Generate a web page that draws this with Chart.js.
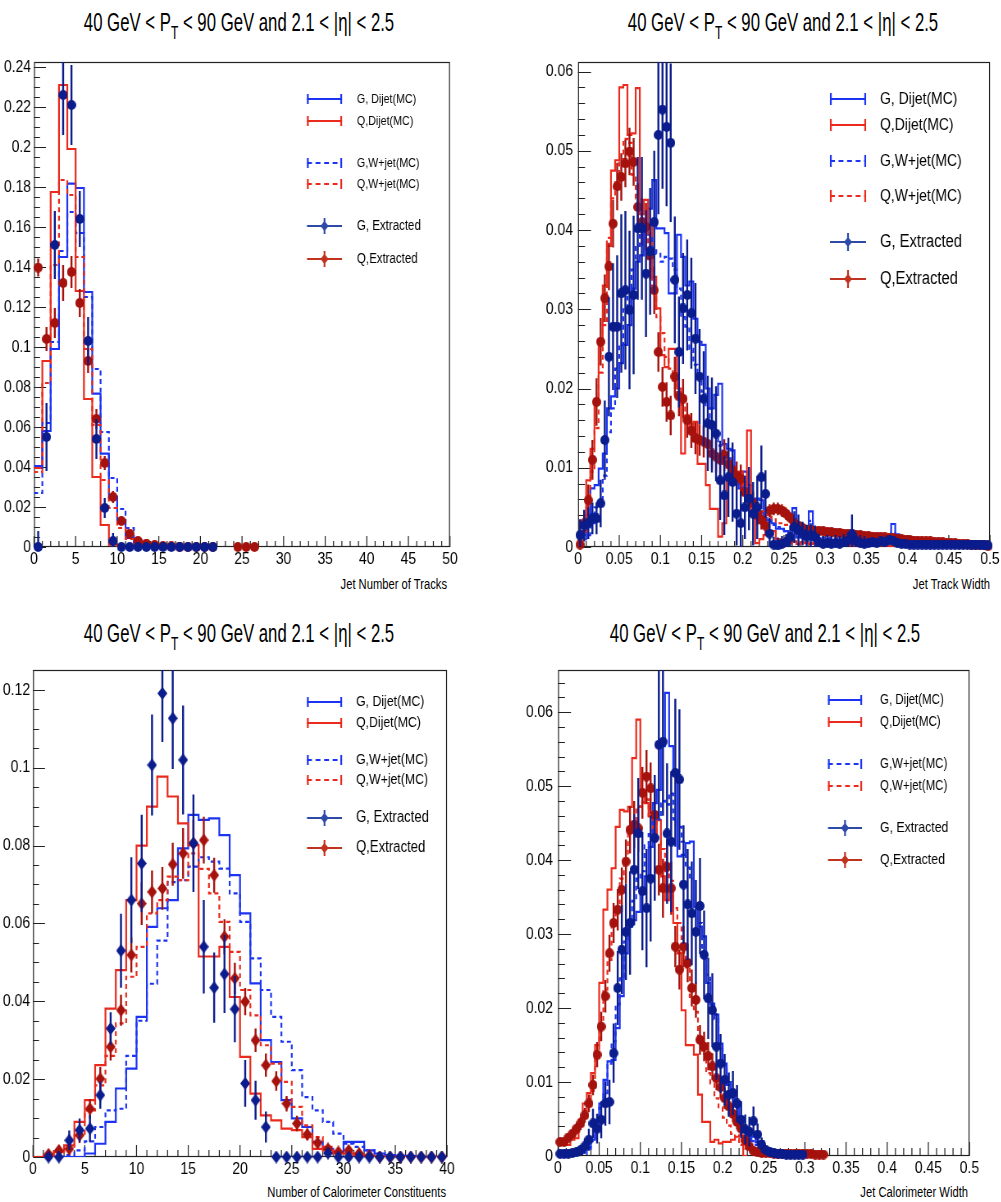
<!DOCTYPE html>
<html>
<head>
<meta charset="utf-8">
<script src="https://cdn.jsdelivr.net/npm/chart.js@4.4.1/dist/chart.umd.min.js"></script>
<style>
  html, body { margin: 0; padding: 0; background: #fff; }
  body { width: 1001px; height: 1202px; position: relative; overflow: hidden;
         font-family: "Liberation Sans", Arial, sans-serif; }
  canvas { position: absolute; transform-origin: 0 0; }
  .title { position: absolute; white-space: nowrap; font-size: 25px; line-height: 1; color: #000;
           transform: translate(-50%, -50%) scaleX(0.67); }
  .title .sub { font-size: 0.72em; position: relative; top: 0.42em; }
  .xt { position: absolute; white-space: nowrap; font-size: 14px; line-height: 1; color: #000;
        transform-origin: 100% 50%; transform: translate(-100%, -50%) scaleX(0.8); }
</style>
</head>
<body>
<div class="title" style="left:239px; top:22px;">40 GeV &lt; P<span class="sub">T</span> &lt; 90 GeV and 2.1 &lt; |η| &lt; 2.5</div>
<div class="title" style="left:783px; top:22px;">40 GeV &lt; P<span class="sub">T</span> &lt; 90 GeV and 2.1 &lt; |η| &lt; 2.5</div>
<div class="title" style="left:239px; top:633px;">40 GeV &lt; P<span class="sub">T</span> &lt; 90 GeV and 2.1 &lt; |η| &lt; 2.5</div>
<div class="title" style="left:765px; top:633px;">40 GeV &lt; P<span class="sub">T</span> &lt; 90 GeV and 2.1 &lt; |η| &lt; 2.5</div>

<div class="xt" style="left:447px; top:584px;">Jet Number of Tracks</div>
<div class="xt" style="left:990px; top:584px;">Jet Track Width</div>
<div class="xt" style="left:446px; top:1192px;">Number of Calorimeter Constituents</div>
<div class="xt" style="left:968px; top:1192px;">Jet Calorimeter Width</div>

<canvas id="c1"></canvas>
<canvas id="c2"></canvas>
<canvas id="c3"></canvas>
<canvas id="c4"></canvas>

<script>
// ===================== DATA =====================
const seriesLabels = ['G, Dijet(MC)', 'Q,Dijet(MC)', 'G,W+jet(MC)', 'Q,W+jet(MC)', 'G, Extracted', 'Q,Extracted'];

// ---- Panel 1: Jet Number of Tracks (bin width 1) ----
const p1BinWidth = 1;
const p1XTicks = [0, 5, 10, 15, 20, 25, 30, 35, 40, 45, 50];
const p1YTicks = [0, 0.02, 0.04, 0.06, 0.08, 0.1, 0.12, 0.14, 0.16, 0.18, 0.2, 0.22, 0.24];
const p1GDijet = [0.0405, 0.058, 0.099, 0.145, 0.1817, 0.1795, 0.1275, 0.0767, 0.0467, 0.0245, 0.0135, 0.0045, 0.0017, 0.001, 0.0005, 0.0003, 0.0002, 0];
const p1QDijet = [0.0395, 0.093, 0.1775, 0.231, 0.199, 0.128, 0.074, 0.035, 0.011, 0.0012, 0.0003, 0];
const p1GWjet  = [0.027, 0.062, 0.1025, 0.148, 0.1675, 0.157, 0.125, 0.089, 0.0575, 0.0345, 0.019, 0.0095, 0.004, 0.0015, 0.0007, 0.0003, 0];
const p1QWjet  = [0.0375, 0.082, 0.141, 0.1835, 0.176, 0.145, 0.099, 0.061, 0.0335, 0.0195, 0.0095, 0.004, 0.0015, 0.0006, 0.0002, 0];
const p1GExt   = [0, 0.055, 0.151, 0.226, 0.221, 0.164, 0.103, 0.054, 0.0195, 0.003, 0, 0, 0, 0, 0, 0, 0, 0, 0, 0, 0, 0];
const p1GErr   = [0.008, 0.017, 0.017, 0.02, 0.02, 0.014, 0.012, 0.01, 0.005, 0.004, 0.001, 0.001, 0.001, 0.001, 0.001, 0.001, 0.001, 0.001, 0.001, 0.001, 0.001, 0.001];
const p1QExt   = [0.1397, 0.104, 0.112, 0.132, 0.1375, 0.122, 0.093, 0.064, 0.042, 0.025, 0.013, 0.0067, 0.003, 0.0017, 0.001, 0.0005, 0.0003, 0.0002, 0, 0, 0, 0, null, null, 0, 0, 0];
const p1QErr   = [0.0045, 0.006, 0.0075, 0.009, 0.008, 0.007, 0.006, 0.005, 0.0035, 0.003, 0.002, 0.0015, 0.001, 0.001, 0.0008, 0.0005, 0.0004, 0.0003, 0, 0, 0, 0, null, null, 0, 0, 0];

// ---- Panel 2: Jet Track Width (bin width 0.005) ----
const p2BinWidth = 0.005;
const p2XTicks = [0, 0.05, 0.1, 0.15, 0.2, 0.25, 0.3, 0.35, 0.4, 0.45, 0.5];
const p2YTicks = [0, 0.01, 0.02, 0.03, 0.04, 0.05, 0.06];
const p2GDijet = [
  0.0015, 0.0015, 0.003, 0.0074, 0.0078, 0.0099, 0.0118, 0.0175, 0.019, 0.02,
  0.0232, 0.0255, 0.028, 0.0326, 0.036, 0.0368, 0.0406, 0.0427, 0.0463, 0.0402,
  0.0402, 0.0396, 0.032, 0.032, 0.0394, 0.0366, 0.033, 0.0335, 0.0288, 0.0259,
  0.0255, 0.02, 0.0175, 0.0192, 0.0206, 0.013, 0.0124, 0.0122, 0.0084, 0.0074,
  0.0095, 0.0078, 0.0059, 0.0061, 0.0059, 0.0034, 0.0034, 0.003, 0.0023, 0.0023,
  0.002, 0.0015, 0.0049, 0.0012, 0.0015, 0.0012, 0.0045, 0.001, 0.0008, 0.0007,
  0.0009, 0.0007, 0.0006, 0.0008, 0.0006, 0.0007, 0.0009, 0.0006, 0.0005, 0.0006,
  0.0004, 0.0007, 0.0005, 0.0016, 0.0006, 0.0005, 0.0029, 0.0016, 0.0005, 0.0004,
  0.0005, 0.0003, 0.0004, 0.0003, 0.0005, 0.0003, 0.0002, 0.0004, 0.0003, 0.0003,
  0.0002, 0.0003, 0.0002, 0.0002, 0.0003, 0.0002, 0.0001, 0.0002, 0.0001, 0.0001];
const p2QDijet = [
  0.0002, 0.002, 0.0084, 0.0124, 0.0187, 0.0255, 0.033, 0.038, 0.0475, 0.0488,
  0.058, 0.0583, 0.052, 0.0522, 0.0579, 0.042, 0.0438, 0.0406, 0.0341, 0.0301,
  0.0242, 0.0227, 0.025, 0.025, 0.02, 0.0118, 0.0166, 0.0143, 0.0158, 0.0105,
  0.0105, 0.0078, 0.0048, 0.0048, 0.0013, 0.003, 0.0085, 0.0095, 0.0085, 0.0095,
  0.007, 0.0147, 0.0044, 0.0005, 0.001, 0.0015, 0.002, 0.002, 0.001, 0.0008,
  0.0006, 0.0005, 0.0007, 0.0004, 0.0006, 0.0005, 0.0004, 0.0005, 0.0003, 0.0004,
  0.0003, 0.0003, 0.0004, 0.0002, 0.0003, 0.0003, 0.0002, 0.0002, 0.0003, 0.0002,
  0.0002, 0.0002, 0.0001, 0.0002, 0.0002, 0.0001, 0.0001, 0.0002, 0.0001, 0.0001, 0];
const p2GWjet = [
  0.001, 0.001, 0.0015, 0.003, 0.005, 0.006, 0.009, 0.0145, 0.0175, 0.0225,
  0.0255, 0.03, 0.0326, 0.035, 0.038, 0.0402, 0.0398, 0.0394, 0.0377, 0.037,
  0.036, 0.0366, 0.0364, 0.035, 0.0326, 0.029, 0.0278, 0.025, 0.023, 0.0217,
  0.0196, 0.0175, 0.0156, 0.0145, 0.0128, 0.0118, 0.0112, 0.0095, 0.0086, 0.0078,
  0.0074, 0.0065, 0.0057, 0.0048, 0.0044, 0.0036, 0.0032, 0.0028, 0.0025, 0.0022,
  0.002, 0.0018, 0.0035, 0.0017, 0.0016, 0.0015, 0.0033, 0.0014, 0.0013, 0.0012,
  0.0012, 0.0011, 0.0011, 0.001, 0.001, 0.001, 0.0012, 0.0009, 0.0009, 0.0009,
  0.0008, 0.0008, 0.0008, 0.0012, 0.0007, 0.0007, 0.0018, 0.0012, 0.0006, 0.0006,
  0.0005, 0.0005, 0.0005, 0.0005, 0.0004, 0.0004, 0.0004, 0.0004, 0.0003, 0.0003,
  0.0003, 0.0003, 0.0003, 0.0002, 0.0002, 0.0002, 0.0002, 0.0002, 0.0001, 0.0001];
const p2QWjet = [
  0.0005, 0.002, 0.0055, 0.0095, 0.015, 0.022, 0.028, 0.039, 0.044, 0.046,
  0.0485, 0.0515, 0.051, 0.047, 0.044, 0.042, 0.04, 0.036, 0.033, 0.029,
  0.027, 0.024, 0.0225, 0.021, 0.0195, 0.018, 0.0165, 0.0155, 0.0145, 0.0135,
  0.013, 0.0125, 0.012, 0.0115, 0.011, 0.0105, 0.01, 0.009, 0.0085, 0.008,
  0.0072, 0.0065, 0.006, 0.005, 0.0045, 0.004, 0.0038, 0.0035, 0.003, 0.003,
  0.0028, 0.0026, 0.0025, 0.0024, 0.0023, 0.0022, 0.0021, 0.002, 0.002, 0.0019,
  0.0018, 0.0018, 0.0017, 0.0016, 0.0016, 0.0015, 0.0014, 0.0014, 0.0013, 0.0013,
  0.0012, 0.0012, 0.0011, 0.0011, 0.001, 0.001, 0.0009, 0.0009, 0.0008, 0.0008,
  0.0007, 0.0007, 0.0007, 0.0006, 0.0006, 0.0006, 0.0005, 0.0005, 0.0005, 0.0004,
  0.0004, 0.0004, 0.0004, 0.0003, 0.0003, 0.0003, 0.0003, 0.0002, 0.0002, 0.0002];
const p2GExt = [
  0.0015, 0.0027, 0.003, 0.0036, 0.0036, 0.0055, 0.0135, 0.024, 0.0278, 0.0278,
  0.032, 0.0324, 0.0299, 0.0318, 0.0402, 0.0402, 0.0345, 0.0373, 0.041, 0.052,
  0.0552, 0.053, 0.051, 0.0337, 0.0246, 0.0301, 0.0318, 0.0295, 0.0263, 0.0215,
  0.0187, 0.0156, 0.0154, 0.0143, 0.0084, 0.0065, 0.0088, 0.0082, 0.0042, 0.003,
  0.005, 0.0061, 0.0042, 0.005, 0.0088, 0.0067, 0.0017, 0.0003, 0.0002, 0.0004,
  0.0006, 0.0012, 0.0025, 0.0021, 0.0017, 0.0013, 0.0015, 0.0012, 0.0006, 0.0004,
  0.0005, 0.0004, 0.0005, 0.0004, 0.0006, 0.0008, 0.0016, 0.0007, 0.0005, 0.0004,
  0.0005, 0.0006, 0.0005, 0.0007, 0.0006, 0.0009, 0.0008, 0.0005, 0.0004, 0.0004,
  0.0003, 0.0003, 0.0003, 0.0003, 0.0003, 0.0003, 0.0003, 0.0003, 0.0003, 0.0003,
  0.0003, 0.0003, 0.0003, 0.0003, 0.0003, 0.0003, 0.0003, 0.0003, 0.0002, 0.0002];
const p2GErr = [
  0.002, 0.002, 0.002, 0.002, 0.002, 0.003, 0.005, 0.0075, 0.008, 0.009,
  0.01, 0.01, 0.01, 0.01, 0.009, 0.009, 0.008, 0.008, 0.009, 0.01,
  0.01, 0.01, 0.01, 0.008, 0.007, 0.007, 0.007, 0.007, 0.007, 0.006,
  0.006, 0.006, 0.006, 0.006, 0.005, 0.005, 0.005, 0.005, 0.004, 0.004,
  0.004, 0.004, 0.004, 0.004, 0.004, 0.003, 0.002, 0.001, 0.001, 0.001,
  0.001, 0.0015, 0.002, 0.002, 0.0015, 0.0015, 0.0015, 0.0015, 0.001, 0.001,
  0.001, 0.001, 0.001, 0.001, 0.001, 0.001, 0.0025, 0.001, 0.001, 0.001];
const p2QExt = [
  0.0003, 0.003, 0.0059, 0.011, 0.0183, 0.0259, 0.0314, 0.0354, 0.0408, 0.0455,
  0.0467, 0.0484, 0.0499, 0.0486, 0.0429, 0.041, 0.0404, 0.0368, 0.0324, 0.0246,
  0.0202, 0.0183, 0.0166, 0.0215, 0.019, 0.0187, 0.016, 0.0147, 0.0137, 0.0135,
  0.0133, 0.013, 0.0118, 0.0114, 0.011, 0.0116, 0.0105, 0.0097, 0.009, 0.0086,
  0.0069, 0.0061, 0.0055, 0.004, 0.0034, 0.0027, 0.0046, 0.0048, 0.0048, 0.0046,
  0.0042, 0.0037, 0.003, 0.0027, 0.0024, 0.0022, 0.0021, 0.002, 0.002, 0.002,
  0.0019, 0.0019, 0.0018, 0.0018, 0.0017, 0.0016, 0.0016, 0.0015, 0.0015, 0.0014,
  0.0014, 0.0013, 0.0013, 0.0012, 0.0012, 0.0011, 0.0011, 0.001, 0.001, 0.0009,
  0.0009, 0.0008, 0.0008, 0.0007, 0.0007, 0.0007, 0.0006, 0.0006, 0.0006, 0.0005,
  0.0005, 0.0005, 0.0004, 0.0004, 0.0004, 0.0003, 0.0003, 0.0003, 0.0003, 0.0001];
const p2QErr = [
  0.001, 0.0015, 0.002, 0.0025, 0.003, 0.003, 0.003, 0.003, 0.003, 0.003,
  0.003, 0.003, 0.003, 0.003, 0.003, 0.003, 0.003, 0.003, 0.003, 0.0025,
  0.0025, 0.0025, 0.0025, 0.0025, 0.0025, 0.0025, 0.0022, 0.0022, 0.002, 0.002,
  0.002, 0.002, 0.002, 0.002, 0.002, 0.002, 0.002, 0.0018, 0.0018, 0.0018,
  0.0015, 0.0015, 0.0015, 0.0012, 0.0012, 0.0012, 0.0008, 0.0008, 0.0008, 0.0008,
  0.0008, 0.0007, 0.0006, 0.0006, 0.0006, 0.0005, 0.0005, 0.0005, 0.0005, 0.0005];

// ---- Panel 3: Number of Calorimeter Constituents (bin width 1) ----
const p3BinWidth = 1;
const p3XTicks = [0, 5, 10, 15, 20, 25, 30, 35, 40];
const p3YTicks = [0, 0.02, 0.04, 0.06, 0.08, 0.1, 0.12];
const p3GDijet = [0, 0, 0, 0, 0, 0.0009, 0.0034, 0.009, 0.0176, 0.0227, 0.036, 0.0591, 0.0639, 0.066, 0.0793, 0.0879, 0.0866, 0.087, 0.0827, 0.0724, 0.0626, 0.0446, 0.03, 0.0244, 0.0146, 0.0099, 0.0077, 0.0039, 0.0021, 0.0013, 0.0039, 0.0039, 0.0017, 0.0009, 0.0005, 0.0003, 0.0002, 0, 0, 0];
const p3QDijet = [0, 0.0003, 0.0013, 0.003, 0.009, 0.0146, 0.0236, 0.0381, 0.048, 0.066, 0.08, 0.09, 0.0977, 0.0926, 0.0857, 0.0801, 0.0515, 0.0515, 0.054, 0.0411, 0.0257, 0.0163, 0.0107, 0.0094, 0.0073, 0.0069, 0.0051, 0.0021, 0.0017, 0.0009, 0.0009, 0.0004, 0.0002, 0, 0, 0, 0, 0, 0, 0];
const p3GWjet  = [0, 0, 0, 0.0005, 0.0017, 0.004, 0.0077, 0.012, 0.0124, 0.026, 0.035, 0.0445, 0.0556, 0.0706, 0.0711, 0.0746, 0.077, 0.0759, 0.0741, 0.0677, 0.0604, 0.051, 0.0429, 0.036, 0.0296, 0.0223, 0.0154, 0.012, 0.009, 0.006, 0.0034, 0.0026, 0.0017, 0.001, 0.0005, 0.0003, 0.0002, 0, 0, 0];
const p3QWjet  = [0, 0, 0.001, 0.0021, 0.006, 0.012, 0.0184, 0.026, 0.0343, 0.0463, 0.054, 0.0626, 0.066, 0.072, 0.0711, 0.078, 0.074, 0.0677, 0.0604, 0.0527, 0.0429, 0.0364, 0.0287, 0.024, 0.0193, 0.0129, 0.0081, 0.0051, 0.0026, 0.0013, 0.0009, 0.0005, 0.0003, 0.0001, 0, 0, 0, 0, 0, 0];
const p3GExt   = [null, 0, 0, 0.0043, 0.0069, 0.0073, 0.0159, 0.033, 0.053, 0.066, 0.0754, 0.1007, 0.1191, 0.1127, 0.102, 0.0806, 0.054, 0.0435, 0.047, 0.038, 0.0189, 0.0146, 0.0077, 0, 0, 0, 0, 0, 0.001, 0, 0, 0, 0, 0, 0, 0, 0, 0, 0, 0];
const p3GErr   = [null, 0.001, 0.001, 0.0025, 0.003, 0.0035, 0.0035, 0.0042, 0.0095, 0.011, 0.0125, 0.013, 0.0125, 0.013, 0.014, 0.0125, 0.012, 0.009, 0.01, 0.0085, 0.006, 0.005, 0.004, 0.001, 0.001, 0.001, 0.001, 0.001, 0.001, 0.001, 0.001, 0.001, 0.001, 0.001, 0.001, 0.001, 0.001, 0.001, 0.001, 0.001];
const p3QExt   = [null, 0.0007, 0.0017, 0.0021, 0.0056, 0.0124, 0.0201, 0.0283, 0.0377, 0.0519, 0.0651, 0.0681, 0.069, 0.0752, 0.078, 0.0806, 0.0814, 0.0724, 0.0566, 0.0459, 0.0399, 0.03, 0.0236, 0.0195, 0.0137, 0.0086, 0.0058, 0.0036, 0.0021, 0.0013, 0.0017, 0.0009, 0.0004, 0, 0, 0, 0, 0, 0, 0];
const p3QErr   = [null, 0.001, 0.001, 0.0015, 0.002, 0.0025, 0.003, 0.0035, 0.004, 0.0045, 0.0055, 0.0055, 0.0055, 0.0055, 0.0065, 0.006, 0.006, 0.0045, 0.0045, 0.004, 0.0035, 0.003, 0.003, 0.0025, 0.002, 0.002, 0.0015, 0.0015, 0.001, 0.001, 0.001, 0.0008, 0.0005, 0.0005, 0.0005, 0.0005, 0.0005, 0.0005, 0.0005, 0.0005];

// ---- Panel 4: Jet Calorimeter Width (bin width 0.005) ----
const p4BinWidth = 0.005;
const p4XTicks = [0, 0.05, 0.1, 0.15, 0.2, 0.25, 0.3, 0.35, 0.4, 0.45, 0.5];
const p4YTicks = [0, 0.01, 0.02, 0.03, 0.04, 0.05, 0.06];
const p4GDijet = [
  0.0003, 0.0003, 0.0004, 0.0005, 0.0006, 0.0008, 0.001, 0.0012, 0.0022, 0.0049,
  0.0071, 0.0103, 0.0128, 0.013, 0.0173, 0.0216, 0.0274, 0.031, 0.0319, 0.033,
  0.0355, 0.0378, 0.0418, 0.0477, 0.0495, 0.0554, 0.0626, 0.0554, 0.0518, 0.0405,
  0.0407, 0.0423, 0.0425, 0.0337, 0.031, 0.0297, 0.0234, 0.0206, 0.0191, 0.0152,
  0.0123, 0.0096, 0.0083, 0.0067, 0.0053, 0.0037, 0.0022, 0.0026, 0.0019, 0.002,
  0.001, 0.0006, 0.0006, 0.0005, 0.0005, 0.0004, 0.0003, 0.0003, 0.0002, 0.0002,
  0.0002, 0.0001, 0];
const p4QDijet = [
  0.0015, 0.0015, 0.0015, 0.0022, 0.0024, 0.0049, 0.0071, 0.0085, 0.0112, 0.015,
  0.0234, 0.0333, 0.036, 0.0389, 0.0445, 0.0468, 0.0466, 0.0472, 0.0538, 0.059,
  0.049, 0.0477, 0.0459, 0.0427, 0.0454, 0.0378, 0.0346, 0.0364, 0.0315, 0.0274,
  0.0197, 0.015, 0.015, 0.0137, 0.0083, 0.0046, 0.0046, 0.0019, 0.0022, 0.0017,
  0.0019, 0.0019, 0.0022, 0.0026, 0.0028, 0];
const p4GWjet = [
  0.0003, 0.0003, 0.0003, 0.0003, 0.0003, 0.0003, 0.0003, 0.001, 0.002, 0.004,
  0.0065, 0.0085, 0.0125, 0.0155, 0.0205, 0.024, 0.029, 0.031, 0.0345, 0.0375,
  0.0385, 0.042, 0.0435, 0.0465, 0.0455, 0.048, 0.0475, 0.049, 0.0455, 0.0445,
  0.0425, 0.039, 0.0375, 0.0335, 0.0315, 0.027, 0.0245, 0.0205, 0.0185, 0.0145,
  0.0125, 0.01, 0.008, 0.0065, 0.005, 0.0038, 0.0028, 0.002, 0.0015, 0.001,
  0.0007, 0.0005, 0.0004, 0.0003, 0.0003, 0.0002, 0.0002, 0.0001, 0.0001, 0];
const p4QWjet = [
  0.0015, 0.0018, 0.0022, 0.0027, 0.0033, 0.0042, 0.0055, 0.0072, 0.0088, 0.0132,
  0.0172, 0.0225, 0.0265, 0.0315, 0.0335, 0.0375, 0.0395, 0.0435, 0.0445, 0.0472,
  0.0478, 0.0482, 0.046, 0.0455, 0.0425, 0.0415, 0.0385, 0.0372, 0.0335, 0.0315,
  0.0275, 0.0255, 0.0215, 0.0195, 0.0158, 0.0138, 0.0112, 0.0098, 0.0078, 0.0066,
  0.0052, 0.0041, 0.003, 0.0023, 0.0015, 0.001, 0.0007, 0.0005, 0.0004, 0.0003,
  0.0003, 0.0002, 0.0002, 0.0002, 0.0001, 0.0001, 0.0001, 0.0001, 0];
const p4GExt = [
  0.0003, 0.0003, 0.0003, 0.0004, 0.0005, 0.0008, 0.0013, 0.0022, 0.0044, 0.0037,
  0.0049, 0.0071, 0.0073, 0.0139, 0.0227, 0.0279, 0.0303, 0.0315, 0.0387, 0.0436,
  0.0358, 0.0335, 0.0375, 0.043, 0.0556, 0.056, 0.0436, 0.0425, 0.0518, 0.0509,
  0.0367, 0.034, 0.0328, 0.0303, 0.0338, 0.0272, 0.0213, 0.0197, 0.0148, 0.0125,
  0.0103, 0.0083, 0.0085, 0.0071, 0.0049, 0.0036, 0.0033, 0.0047, 0.0029, 0.0015,
  0.0008, 0.0005, 0.0004, 0.0003, 0.0003, 0.0002, 0.0002, 0.0002, 0.0002, 0.0002];
const p4GErr = [
  0.0003, 0.0003, 0.0003, 0.0004, 0.0005, 0.0006, 0.001, 0.0015, 0.002, 0.002,
  0.0025, 0.003, 0.003, 0.004, 0.005, 0.006, 0.0065, 0.007, 0.0075, 0.0075,
  0.008, 0.008, 0.0085, 0.0085, 0.01, 0.01, 0.0095, 0.0095, 0.01, 0.0095,
  0.008, 0.0075, 0.007, 0.007, 0.0065, 0.006, 0.0055, 0.005, 0.0045, 0.004,
  0.0035, 0.003, 0.003, 0.0025, 0.0025, 0.002, 0.002, 0.002, 0.0015, 0.001];
const p4QExt = [
  0.0019, 0.0019, 0.0025, 0.003, 0.0037, 0.0044, 0.0055, 0.0071, 0.0096, 0.0137,
  0.0175, 0.0216, 0.0274, 0.0315, 0.0333, 0.036, 0.0398, 0.0441, 0.0448, 0.0443,
  0.0491, 0.0513, 0.0497, 0.0461, 0.0387, 0.0362, 0.0391, 0.0362, 0.0283, 0.0252,
  0.0283, 0.0261, 0.0227, 0.0211, 0.0157, 0.0148, 0.0135, 0.0121, 0.0105, 0.0093,
  0.0078, 0.0067, 0.0057, 0.0046, 0.0037, 0.0021, 0.0013, 0.0007, 0.0005, 0.0004,
  0.0004, 0.0004, 0.0003, 0.0003, 0.0003, 0.0003, 0.0003, 0.0003, 0.0003, 0.0003,
  0.0003, 0.0003, 0.0002, 0.0002, 0.0002];
const p4QErr = [
  0.0005, 0.0005, 0.0006, 0.0007, 0.0008, 0.0009, 0.001, 0.0012, 0.0014, 0.0017,
  0.002, 0.0022, 0.0025, 0.0027, 0.0028, 0.003, 0.003, 0.0032, 0.0032, 0.0032,
  0.0035, 0.0036, 0.0035, 0.0034, 0.0035, 0.004, 0.0036, 0.0036, 0.0028, 0.0027,
  0.0028, 0.0026, 0.0025, 0.0024, 0.002, 0.002, 0.0019, 0.0018, 0.0016, 0.0015,
  0.0014, 0.0012, 0.0011, 0.001, 0.0009, 0.0007, 0.0005, 0.0004, 0.0003, 0.0003];

// ===================== STYLE / RENDER =====================
const S = 0.82; // horizontal compression of each chart canvas (condensed look of the original)
const FONT = '"Liberation Sans", Arial, sans-serif';
const BLUE = '#1c34f2', RED = '#ea2a1c', NAVY = '#0b1c8c', DRED = '#a5120d';

function diamondImg(color, w, h) {
  const c = document.createElement('canvas');
  c.width = w; c.height = h;
  const g = c.getContext('2d');
  g.fillStyle = color;
  g.beginPath(); g.moveTo(w / 2, 0); g.lineTo(w, h / 2); g.lineTo(w / 2, h); g.lineTo(0, h / 2); g.closePath(); g.fill();
  return c;
}
function circleImg(color, w, h) {
  const c = document.createElement('canvas');
  c.width = w; c.height = h;
  const g = c.getContext('2d');
  g.fillStyle = color;
  g.beginPath(); g.ellipse(w / 2, h / 2, w / 2, h / 2, 0, 0, Math.PI * 2); g.fill();
  return c;
}

function histData(vals, w) {
  const pts = vals.map((v, i) => ({ x: i * w, y: v }));
  pts.push({ x: vals.length * w, y: vals[vals.length - 1] });
  return pts;
}
function pointData(vals, errs, w) {
  const out = [];
  vals.forEach((v, i) => {
    if (v === null || v === undefined) return;
    const e = errs && errs[i] != null ? errs[i] : 0;
    out.push({ x: (i + 0.5) * w, y: v, e: e });
  });
  return out;
}

const errPlugin = {
  id: 'errBars',
  beforeDatasetDraw(chart, args) {
    const ds = chart.data.datasets[args.index];
    if (!ds.isPoints) return;
    const ctx = chart.ctx, a = chart.chartArea, ys = chart.scales.y;
    ctx.save();
    ctx.beginPath(); ctx.rect(a.left, a.top, a.right - a.left, a.bottom - a.top + 1); ctx.clip();
    ctx.strokeStyle = ds.borderColor; ctx.lineWidth = 2.4;
    args.meta.data.forEach((el, i) => {
      const d = ds.data[i];
      if (!d || !(d.e > 0)) return;
      const y1 = ys.getPixelForValue(Math.max(0, d.y - d.e)), y2 = ys.getPixelForValue(d.y + d.e);
      ctx.beginPath(); ctx.moveTo(el.x, y1); ctx.lineTo(el.x, y2); ctx.stroke();
    });
    ctx.restore();
  }
};

const framePlugin = {
  id: 'rootFrame',
  beforeDatasetsDraw(chart, args, o) {
    const ctx = chart.ctx, a = chart.chartArea, xs = chart.scales.x, ys = chart.scales.y;
    ctx.save();
    ctx.strokeStyle = '#222'; ctx.lineWidth = 1.2;
    ctx.strokeRect(a.left + 0.6, Math.round(a.top) + 0.5, a.right - a.left - 1.2, Math.round(a.bottom - a.top) - 1);
    ctx.beginPath();
    const nx = Math.round((xs.max - xs.min) / o.xMinor);
    for (let k = 0; k <= nx; k++) {
      const v = xs.min + k * o.xMinor;
      const px = xs.getPixelForValue(v);
      const len = (k % o.xEvery === 0) ? o.xMajLen : o.xMinLen;
      ctx.moveTo(px, a.bottom); ctx.lineTo(px, a.bottom - len);
    }
    for (let k = 0; ys.min + k * o.yMinor <= ys.max + 1e-12; k++) {
      const v = ys.min + k * o.yMinor;
      const py = Math.round(ys.getPixelForValue(v)) + 0.5;
      const len = ((k % o.yEvery === 0) ? o.yMajLen : o.yMinLen) / S;
      ctx.moveTo(a.left, py); ctx.lineTo(a.left + len, py);
    }
    ctx.stroke();
    ctx.restore();
  }
};

const legendPlugin = {
  id: 'rootLegend',
  afterDraw(chart, args, o) {
    if (!o || !o.rows) return;
    const ctx = chart.ctx;
    ctx.save();
    o.rows.forEach(r => {
      const ds = chart.data.datasets[r.ds];
      const y = r.y, x0 = o.x0, x1 = o.x1, xm = (x0 + x1) / 2;
      ctx.strokeStyle = ds.isPoints ? ds.legendColor : ds.borderColor;
      ctx.lineWidth = 2.2;
      ctx.setLineDash((ds.borderDash || []).map(d => d / S));
      ctx.beginPath(); ctx.moveTo(x0, y); ctx.lineTo(x1, y); ctx.stroke();
      ctx.setLineDash([]);
      ctx.beginPath();
      if (ds.isPoints) {
        ctx.moveTo(xm, y - o.bar); ctx.lineTo(xm, y + o.bar); ctx.stroke();
        ctx.fillStyle = ds.legendColor;
        ctx.beginPath(); ctx.moveTo(xm, y - 5); ctx.lineTo(xm + 5, y); ctx.lineTo(xm, y + 5); ctx.lineTo(xm - 5, y); ctx.closePath(); ctx.fill();
      } else {
        ctx.moveTo(x0 + 1, y - o.cap); ctx.lineTo(x0 + 1, y + o.cap);
        ctx.moveTo(x1 - 1, y - o.cap); ctx.lineTo(x1 - 1, y + o.cap);
        ctx.stroke();
      }
      ctx.fillStyle = '#000';
      ctx.font = (r.size || o.size) + 'px ' + FONT;
      ctx.textBaseline = 'middle'; ctx.textAlign = 'left';
      ctx.fillText(ds.label, o.tx, y);
    });
    ctx.restore();
  }
};

// screen geometry -> compressed canvas geometry
function makePanel(id, cfg) {
  const el = document.getElementById(id);
  const scr = cfg.screen, area = cfg.area;
  const cw = Math.round(scr.width / S), ch = scr.height;
  el.width = cw; el.height = ch;
  el.style.left = scr.left + 'px'; el.style.top = scr.top + 'px';
  el.style.transform = 'scaleX(' + S + ')';
  const toCX = sx => (sx - scr.left) / S;
  const xAxisH = 30;
  const yWidth = toCX(area.l);
  const pad = { left: 0, top: area.t - scr.top, right: cw - toCX(area.r), bottom: scr.top + scr.height - area.b - xAxisH };
  const lg = cfg.legend;
  const legend = { x0: toCX(lg.x0), x1: toCX(lg.x1), tx: toCX(lg.tx), cap: lg.cap, bar: lg.bar, size: lg.size,
                   rows: lg.rows.map(r => ({ ds: r.ds, y: r.y - scr.top, size: r.size })) };

  const w = cfg.binWidth;
  const hist = (vals, label, color, dash, order) => ({
    label, data: histData(vals, w), borderColor: color, borderWidth: 2.2, borderDash: dash.map(d => d / S),
    stepped: true, pointRadius: 0, fill: false, tension: 0, order
  });
  const pts = (vals, errs, label, color, legendColor, style, radius, order) => ({
    label, data: pointData(vals, errs, w), isPoints: true, showLine: false,
    borderColor: color, backgroundColor: color, legendColor,
    pointStyle: style, pointRadius: radius, pointBorderWidth: 0, clip: false, order
  });
  const datasets = [
    hist(cfg.gDijet, seriesLabels[0], BLUE, [], 6),
    hist(cfg.qDijet, seriesLabels[1], RED, [], 5),
    hist(cfg.gWjet, seriesLabels[2], BLUE, [4, 3], 4),
    hist(cfg.qWjet, seriesLabels[3], RED, [4, 3], 3),
    pts(cfg.gExt, cfg.gErr, seriesLabels[4], NAVY, '#2d4aa8', cfg.gStyle, cfg.radius, 0),
    pts(cfg.qExt, cfg.qErr, seriesLabels[5], DRED, '#c0331f', cfg.qStyle, cfg.radius, 1)
  ];
  const tickFont = { family: FONT, size: 17 };
  return new Chart(el, {
    type: 'line',
    data: { datasets },
    options: {
      responsive: false, animation: false, devicePixelRatio: 1,
      events: [],
      layout: { padding: pad },
      plugins: {
        legend: { display: false }, tooltip: { enabled: false },
        rootFrame: cfg.frame, rootLegend: legend
      },
      scales: {
        x: {
          type: 'linear', min: cfg.xMin, max: cfg.xMax,
          grid: { display: false, drawTicks: false }, border: { display: false },
          ticks: { autoSkip: false, maxRotation: 0, minRotation: 0, padding: 2, font: tickFont, color: '#000',
                   callback: v => String(v) },
          afterBuildTicks: s => { s.ticks = cfg.xTicks.map(v => ({ value: v })); },
          afterFit: s => { s.height = xAxisH; s.paddingLeft = 0; s.paddingRight = 0; }
        },
        y: {
          type: 'linear', min: 0, max: cfg.yMax,
          grid: { display: false, drawTicks: false }, border: { display: false },
          ticks: { autoSkip: false, padding: cfg.yPad / S, font: tickFont, color: '#000', callback: v => String(v) },
          afterBuildTicks: s => { s.ticks = cfg.yTicks.map(v => ({ value: v })); },
          afterFit: s => { s.width = yWidth; s.paddingTop = 0; s.paddingBottom = 0; }
        }
      }
    },
    plugins: [errPlugin, framePlugin, legendPlugin]
  });
}

const circNavy = circleImg(NAVY, 11, 10), circRed = circleImg(DRED, 11, 10);
const diaNavy = diamondImg(NAVY, 12, 13), diaRed = diamondImg(DRED, 12, 13);

makePanel('c1', {
  screen: { left: 0, top: 50, width: 500, height: 550 }, area: { l: 34, t: 62, r: 450, b: 547 },
  binWidth: p1BinWidth, xMin: 0, xMax: 50, yMax: 0.2425, xTicks: p1XTicks, yTicks: p1YTicks, yPad: 3,
  gDijet: p1GDijet, qDijet: p1QDijet, gWjet: p1GWjet, qWjet: p1QWjet,
  gExt: p1GExt, gErr: p1GErr, qExt: p1QExt, qErr: p1QErr, gStyle: circNavy, qStyle: circRed, radius: 5,
  frame: { xMinor: 1, xEvery: 5, xMajLen: 11, xMinLen: 6, yMinor: 0.005, yEvery: 4, yMajLen: 12, yMinLen: 6 },
  legend: { x0: 307, x1: 342, tx: 357, cap: 5, bar: 8, size: 13,
            rows: [{ ds: 0, y: 99 }, { ds: 1, y: 121 }, { ds: 2, y: 163 }, { ds: 3, y: 184 }, { ds: 4, y: 226, size: 14 }, { ds: 5, y: 259, size: 14 }] }
});

makePanel('c2', {
  screen: { left: 520, top: 50, width: 481, height: 550 }, area: { l: 578, t: 62, r: 990, b: 547 },
  binWidth: p2BinWidth, xMin: 0, xMax: 0.5, yMax: 0.0612, xTicks: p2XTicks, yTicks: p2YTicks, yPad: 5,
  gDijet: p2GDijet, qDijet: p2QDijet, gWjet: p2GWjet, qWjet: p2QWjet,
  gExt: p2GExt, gErr: p2GErr, qExt: p2QExt, qErr: p2QErr, gStyle: circNavy, qStyle: circRed, radius: 5,
  frame: { xMinor: 0.01, xEvery: 5, xMajLen: 12, xMinLen: 6, yMinor: 0.002, yEvery: 5, yMajLen: 13, yMinLen: 7 },
  legend: { x0: 830, x1: 866, tx: 880, cap: 6, bar: 9, size: 17,
            rows: [{ ds: 0, y: 99 }, { ds: 1, y: 125 }, { ds: 2, y: 161 }, { ds: 3, y: 196 }, { ds: 4, y: 242, size: 18 }, { ds: 5, y: 279, size: 18 }] }
});

makePanel('c3', {
  screen: { left: 0, top: 655, width: 500, height: 547 }, area: { l: 33, t: 670, r: 447, b: 1157 },
  binWidth: p3BinWidth, xMin: 0, xMax: 40, yMax: 0.1251, xTicks: p3XTicks, yTicks: p3YTicks, yPad: 3,
  gDijet: p3GDijet, qDijet: p3QDijet, gWjet: p3GWjet, qWjet: p3QWjet,
  gExt: p3GExt, gErr: p3GErr, qExt: p3QExt, qErr: p3QErr, gStyle: diaNavy, qStyle: diaRed, radius: 6,
  frame: { xMinor: 1, xEvery: 5, xMajLen: 12, xMinLen: 7, yMinor: 0.005, yEvery: 4, yMajLen: 12, yMinLen: 6 },
  legend: { x0: 307, x1: 342, tx: 356, cap: 5, bar: 8, size: 15,
            rows: [{ ds: 0, y: 702 }, { ds: 1, y: 723 }, { ds: 2, y: 760 }, { ds: 3, y: 780 }, { ds: 4, y: 818, size: 16 }, { ds: 5, y: 848, size: 16 }] }
});

makePanel('c4', {
  screen: { left: 520, top: 655, width: 481, height: 547 }, area: { l: 558, t: 670, r: 969.5, b: 1156 },
  binWidth: p4BinWidth, xMin: 0, xMax: 0.5, yMax: 0.0657, xTicks: p4XTicks, yTicks: p4YTicks, yPad: 5,
  gDijet: p4GDijet, qDijet: p4QDijet, gWjet: p4GWjet, qWjet: p4QWjet,
  gExt: p4GExt, gErr: p4GErr, qExt: p4QExt, qErr: p4QErr, gStyle: circNavy, qStyle: circRed, radius: 5,
  frame: { xMinor: 0.01, xEvery: 5, xMajLen: 14, xMinLen: 8, yMinor: 0.002, yEvery: 5, yMajLen: 13, yMinLen: 7 },
  legend: { x0: 828, x1: 862, tx: 880, cap: 5, bar: 8, size: 14,
            rows: [{ ds: 0, y: 700 }, { ds: 1, y: 722 }, { ds: 2, y: 764 }, { ds: 3, y: 786 }, { ds: 4, y: 828, size: 15 }, { ds: 5, y: 860, size: 15 }] }
});
</script>
</body>
</html>
